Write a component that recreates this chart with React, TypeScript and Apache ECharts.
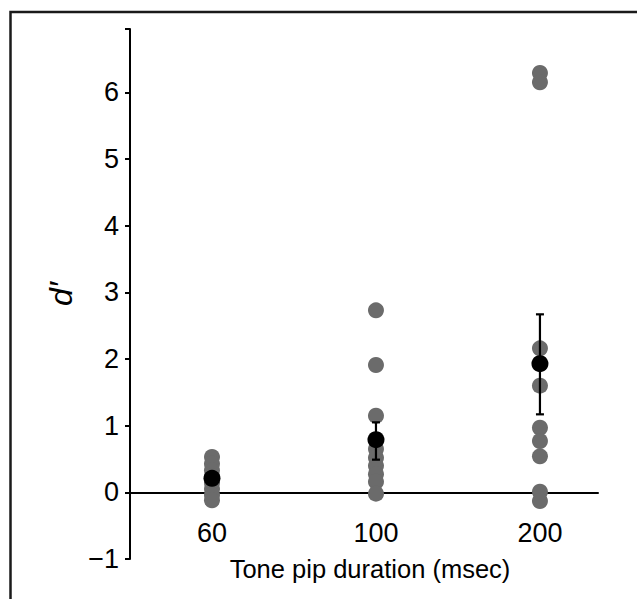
import React, { useEffect, useRef } from "react";
import * as echarts from "echarts";

// Data
const categories = ["60", "100", "200"];
const individual60 = [0.53, 0.43, 0.33, 0.24, 0.14, 0.05, -0.04, -0.12];
const individual100 = [2.73, 1.91, 1.15, 0.65, 0.52, 0.4, 0.27, 0.16, -0.02];
const individual200 = [6.29, 6.15, 2.16, 1.6, 0.97, 0.77, 0.54, 0.01, -0.13];
const means = [0.21, 0.79, 1.93];
const errLow = [0.13, 0.49, 1.17];
const errHigh = [0.29, 1.05, 2.67];
const yTickLabels = [-1, 0, 1, 2, 3, 4, 5, 6];

const FONT = "'Liberation Sans', Arial, Helvetica, sans-serif";

export default function App() {
  const ref = useRef<HTMLDivElement>(null);

  useEffect(() => {
    if (!ref.current) return;
    const chart = echarts.init(ref.current, undefined, { renderer: "svg" });

    const groups = [individual60, individual100, individual200];
    const indivData: number[][] = [];
    groups.forEach((g, i) => g.forEach((v) => indivData.push([i, v])));
    const meanData = means.map((m, i) => [i, m]);
    const errData = means.map((_, i) => [i, errLow[i], errHigh[i]]);

    const yMax = 6.95;

    chart.setOption({
      animation: false,
      textStyle: { fontFamily: FONT },
      graphic: [
        {
          type: "rect",
          shape: { x: 10.5, y: 12, width: 800, height: 800 },
          style: { fill: "none", stroke: "#1a1a1a", lineWidth: 2.5 },
          silent: true,
        },
      ],
      grid: { left: 130, right: 39, top: 29, bottom: 40, containLabel: false, outerBoundsMode: "none" },
      xAxis: {
        type: "value",
        min: -0.5,
        max: 2.354,
        axisLine: { show: true, onZero: true, lineStyle: { color: "#000", width: 2 } },
        axisTick: { show: false },
        splitLine: { show: false },
        axisLabel: {
          customValues: [0, 1, 2],
          formatter: (v: number) => categories[Math.round(v)] ?? "",
          fontSize: 27,
          color: "#000",
          fontFamily: FONT,
          margin: -40,
        },
        name: "Tone pip duration (msec)",
        nameLocation: "middle",
        nameGap: -3,
        nameTextStyle: { fontSize: 25.5, color: "#000", fontFamily: FONT, padding: [0, 0, 0, 12] },
      },
      yAxis: {
        type: "value",
        min: -1,
        max: yMax,
        axisLine: { show: true, onZero: false, lineStyle: { color: "#000", width: 2 } },
        axisTick: {
          show: true,
          inside: false,
          length: 5,
          lineStyle: { color: "#000", width: 2 },
          customValues: [...yTickLabels, yMax],
        },
        splitLine: { show: false },
        axisLabel: {
          customValues: yTickLabels,
          formatter: (v: number) => (v < 0 ? "\u2212" + Math.abs(v) : String(v)),
          fontSize: 27,
          color: "#000",
          fontFamily: FONT,
          margin: 11,
        },
        name: "d\u2032",
        nameLocation: "middle",
        nameGap: 47,
        nameTextStyle: { fontSize: 32, fontStyle: "italic", color: "#000", fontFamily: FONT },
      },
      series: [
        {
          type: "scatter",
          data: indivData,
          symbol: "circle",
          symbolSize: 16,
          itemStyle: { color: "#6b6b6b", opacity: 1 },
          z: 2,
        },
        {
          type: "custom",
          data: errData,
          z: 3,
          renderItem: (params: any, api: any) => {
            const x = api.value(0);
            const lo = api.coord([x, api.value(1)]);
            const hi = api.coord([x, api.value(2)]);
            const w = 4;
            const style = { stroke: "#000", lineWidth: 2.2, fill: "none" };
            return {
              type: "group",
              children: [
                { type: "line", shape: { x1: lo[0], y1: lo[1], x2: hi[0], y2: hi[1] }, style },
                { type: "line", shape: { x1: lo[0] - w, y1: lo[1], x2: lo[0] + w, y2: lo[1] }, style },
                { type: "line", shape: { x1: hi[0] - w, y1: hi[1], x2: hi[0] + w, y2: hi[1] }, style },
              ],
            };
          },
        },
        {
          type: "scatter",
          data: meanData,
          symbol: "circle",
          symbolSize: 17,
          itemStyle: { color: "#000", opacity: 1 },
          z: 4,
        },
      ],
    });

    return () => chart.dispose();
  }, []);

  return (
    <div
      ref={ref}
      style={{ position: "fixed", left: 0, top: 0, width: 637, height: 599, background: "#fff" }}
    />
  );
}
